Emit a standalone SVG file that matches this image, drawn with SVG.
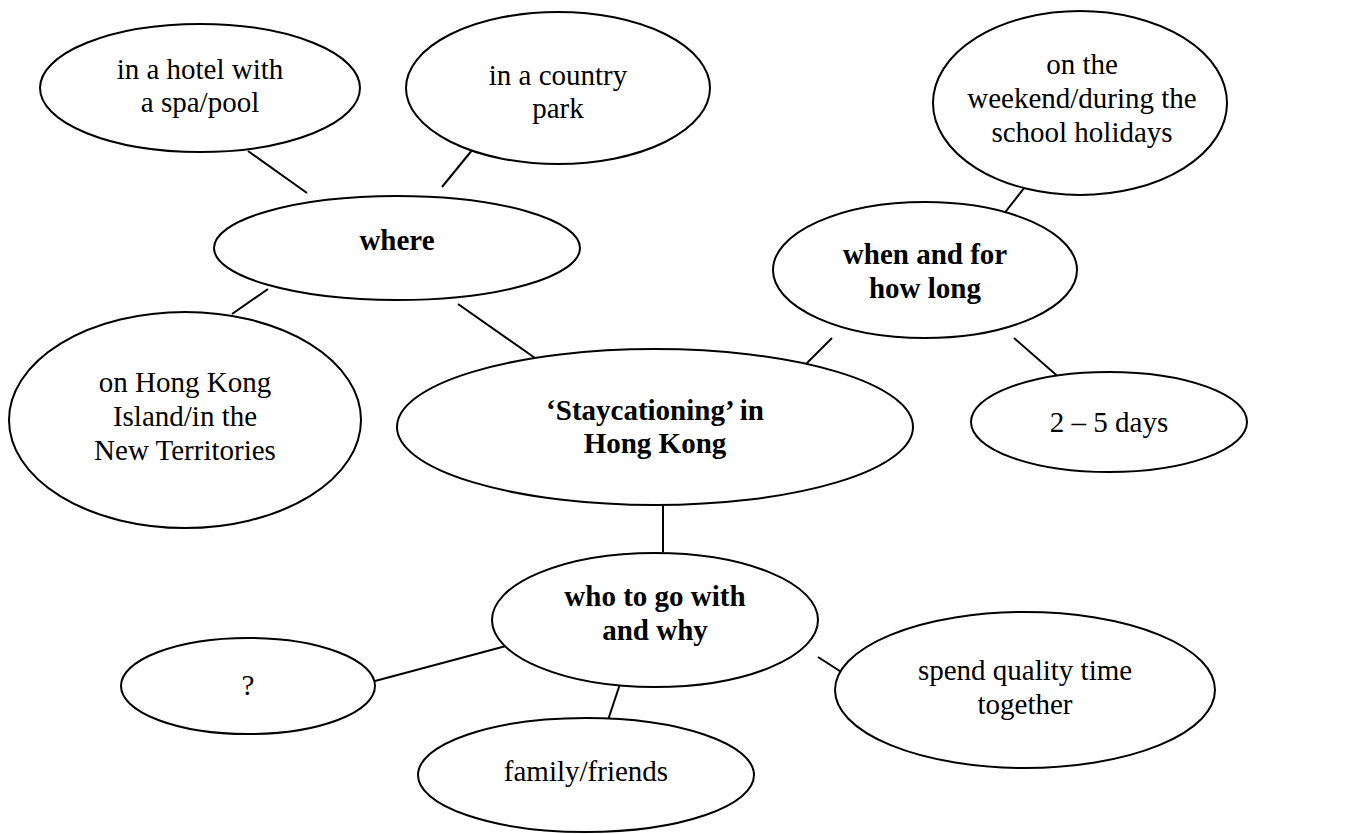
<svg xmlns="http://www.w3.org/2000/svg" width="1346" height="834" viewBox="0 0 1346 834">
<style>
.n ellipse{fill:#fff;stroke:#000;stroke-width:2}
text{font-family:"Liberation Serif","Times New Roman",serif;font-size:29px;fill:#000;text-anchor:middle}
.b{font-weight:bold}
#connectors line{stroke:#000;stroke-width:2}
</style>
<rect width="1346" height="834" fill="#fff"/>
<g id="connectors">
<line x1="248" y1="151" x2="307" y2="193"/>
<line x1="473" y1="149" x2="442" y2="187"/>
<line x1="268" y1="289" x2="232" y2="314"/>
<line x1="458" y1="304" x2="535" y2="358"/>
<line x1="1032" y1="178" x2="1003" y2="215"/>
<line x1="832" y1="338" x2="806" y2="364"/>
<line x1="1014" y1="338" x2="1062" y2="380"/>
<line x1="663" y1="505" x2="663" y2="552"/>
<line x1="506" y1="646" x2="375" y2="681"/>
<line x1="622" y1="678" x2="604" y2="732"/>
<line x1="818" y1="657" x2="863" y2="686"/>
</g>
<g id="hotel" class="n"><ellipse cx="200" cy="88" rx="160" ry="64"/><text x="200" y="79">in a hotel with</text><text x="200" y="112">a spa/pool</text></g>
<g id="country" class="n"><ellipse cx="558" cy="88" rx="152" ry="76"/><text x="558" y="85">in a country</text><text x="558" y="118">park</text></g>
<g id="weekend" class="n"><ellipse cx="1080" cy="103" rx="147" ry="92"/><text x="1082" y="74">on the</text><text x="1082" y="108">weekend/during the</text><text x="1082" y="142">school holidays</text></g>
<g id="where" class="n"><ellipse cx="397" cy="248" rx="183" ry="52"/><text class="b" x="397" y="250">where</text></g>
<g id="when" class="n"><ellipse cx="925" cy="270" rx="152" ry="68"/><text class="b" x="925" y="264">when and for</text><text class="b" x="925" y="298">how long</text></g>
<g id="island" class="n"><ellipse cx="185" cy="420" rx="176" ry="108"/><text x="185" y="392">on Hong Kong</text><text x="185" y="426">Island/in the</text><text x="185" y="460">New Territories</text></g>
<g id="staycation" class="n"><ellipse cx="655" cy="427" rx="258" ry="78"/><text class="b" x="655" y="420">‘Staycationing’ in</text><text class="b" x="655" y="453">Hong Kong</text></g>
<g id="days" class="n"><ellipse cx="1109" cy="422" rx="138" ry="50"/><text x="1109" y="432">2 – 5 days</text></g>
<g id="who" class="n"><ellipse cx="655" cy="620" rx="163" ry="67"/><text class="b" x="655" y="606">who to go with</text><text class="b" x="655" y="640">and why</text></g>
<g id="unknown" class="n"><ellipse cx="248" cy="686" rx="127" ry="48"/><text x="248" y="695">?</text></g>
<g id="quality" class="n"><ellipse cx="1025" cy="690" rx="190" ry="78"/><text x="1025" y="680">spend quality time</text><text x="1025" y="714">together</text></g>
<g id="family" class="n"><ellipse cx="586" cy="775" rx="168" ry="57"/><text x="586" y="781">family/friends</text></g>
</svg>
